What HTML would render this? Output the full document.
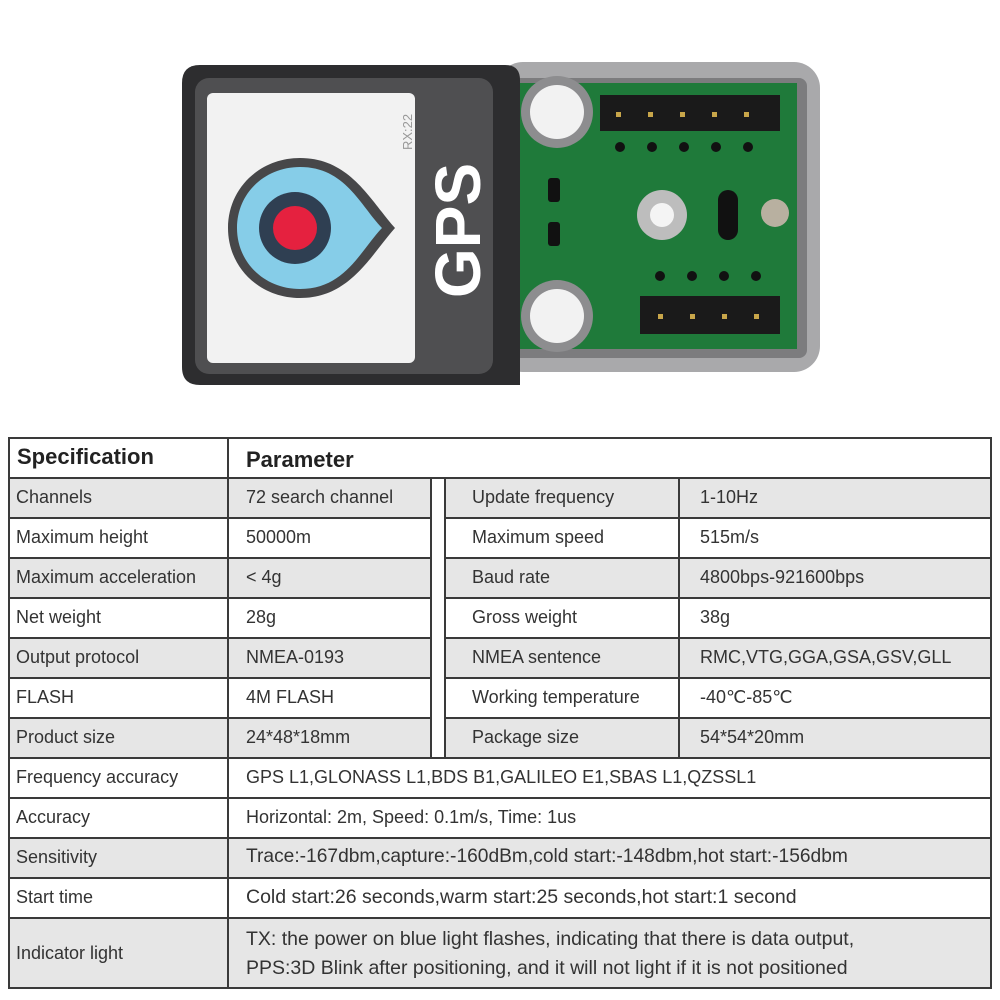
<!DOCTYPE html>
<html><head><style>
body{margin:0;width:1000px;height:1000px;background:#fff;position:relative;font-family:"Liberation Sans",Arial,sans-serif;overflow:hidden}
.t{position:absolute;left:0;top:0}
.c{position:absolute;font-size:18px;color:#333;white-space:nowrap;line-height:20px}
</style></head><body>
<svg class="t" width="1000" height="430" viewBox="0 0 1000 430">
 <rect x="497" y="62" width="323" height="310" rx="26" fill="#a9a9ab"/>
 <rect x="507" y="78" width="300" height="280" rx="8" fill="#7c7c7e"/>
 <rect x="512" y="83" width="285" height="266" fill="#1f7a3a"/>
 <rect x="600" y="95" width="180" height="36" fill="#1a1a1a"/>
 <g fill="#c8a64a"><rect x="616" y="112" width="5" height="5"/><rect x="648" y="112" width="5" height="5"/><rect x="680" y="112" width="5" height="5"/><rect x="712" y="112" width="5" height="5"/><rect x="744" y="112" width="5" height="5"/></g>
 <rect x="640" y="296" width="140" height="38" fill="#1a1a1a"/>
 <g fill="#c8a64a"><rect x="658" y="314" width="5" height="5"/><rect x="690" y="314" width="5" height="5"/><rect x="722" y="314" width="5" height="5"/><rect x="754" y="314" width="5" height="5"/></g>
 <g fill="#111"><circle cx="620" cy="147" r="5"/><circle cx="652" cy="147" r="5"/><circle cx="684" cy="147" r="5"/><circle cx="716" cy="147" r="5"/><circle cx="748" cy="147" r="5"/>
 <circle cx="660" cy="276" r="5"/><circle cx="692" cy="276" r="5"/><circle cx="724" cy="276" r="5"/><circle cx="756" cy="276" r="5"/></g>
 <rect x="718" y="190" width="20" height="50" rx="10" fill="#111"/>
 <circle cx="775" cy="213" r="14" fill="#b8b0a0"/>
 <circle cx="662" cy="215" r="25" fill="#bdbdbd"/><circle cx="662" cy="215" r="12" fill="#f4f4f4"/>
 <rect x="548" y="178" width="12" height="24" rx="3" fill="#111"/><rect x="548" y="222" width="12" height="24" rx="3" fill="#111"/>
 <circle cx="557" cy="112" r="36" fill="#8d8d8f"/><circle cx="557" cy="112" r="27" fill="#f2f2f2"/>
 <circle cx="557" cy="316" r="36" fill="#8d8d8f"/><circle cx="557" cy="316" r="27" fill="#f2f2f2"/>
 <path d="M200 65 H505 Q520 65 520 80 V385 H200 Q182 385 182 367 V83 Q182 65 200 65Z" fill="#2d2d2f"/>
 <rect x="195" y="78" width="298" height="296" rx="14" fill="#4f4f51"/>
 <rect x="207" y="93" width="208" height="270" rx="6" fill="#f2f2f2"/>
 <path d="M300 158 C350 158 370 200 395 228 C370 256 350 298 300 298 C260 298 228 268 228 228 C228 188 260 158 300 158Z" fill="#474749"/>
 <path d="M300 167 C345 167 360 205 382 228 C360 251 345 289 300 289 C265 289 237 263 237 228 C237 193 265 167 300 167Z" fill="#86cde8"/>
 <circle cx="295" cy="228" r="36" fill="#2f3f52"/>
 <circle cx="295" cy="228" r="22" fill="#e5213f"/>
 <text transform="translate(480 298) rotate(-90)" font-family="Liberation Sans" font-weight="bold" font-size="64" fill="#fff">GPS</text>
 <text transform="translate(412 150) rotate(-90)" font-family="Liberation Sans" font-size="13" fill="#999">RX:22</text>
</svg>
<svg class="t" width="1000" height="1000" style="top:0">
 <g fill="#e6e6e6">
  <rect x="9" y="478" width="422" height="40"/><rect x="445" y="478" width="546" height="40"/>
  <rect x="9" y="558" width="422" height="40"/><rect x="445" y="558" width="546" height="40"/>
  <rect x="9" y="638" width="422" height="40"/><rect x="445" y="638" width="546" height="40"/>
  <rect x="9" y="718" width="422" height="40"/><rect x="445" y="718" width="546" height="40"/>
  <rect x="9" y="838" width="982" height="40"/><rect x="9" y="918" width="982" height="70"/>
 </g>
 <g stroke="#3a3a3a" stroke-width="2" fill="none">
  <rect x="9" y="438" width="982" height="550"/>
  <line x1="228" y1="438" x2="228" y2="988"/>
  <line x1="431" y1="478" x2="431" y2="758"/><line x1="445" y1="478" x2="445" y2="758"/>
  <line x1="679" y1="478" x2="679" y2="758"/>
  <path d="M9 478H991M9 518H431M445 518H991M9 558H431M445 558H991M9 598H431M445 598H991M9 638H431M445 638H991M9 678H431M445 678H991M9 718H431M445 718H991M9 758H991M9 798H991M9 838H991M9 878H991M9 918H991"/>
 </g>
</svg>
<div class="c" style="left:17px;top:447px;font-size:22px;font-weight:bold;color:#222">Specification</div>
<div class="c" style="left:246px;top:450px;font-size:22px;font-weight:bold;color:#222">Parameter</div>
<div class="c" style="left:16px;top:487px">Channels</div><div class="c" style="left:246px;top:487px">72 search channel</div>
<div class="c" style="left:472px;top:487px">Update frequency</div><div class="c" style="left:700px;top:487px">1-10Hz</div>
<div class="c" style="left:16px;top:527px">Maximum height</div><div class="c" style="left:246px;top:527px">50000m</div>
<div class="c" style="left:472px;top:527px">Maximum speed</div><div class="c" style="left:700px;top:527px">515m/s</div>
<div class="c" style="left:16px;top:567px">Maximum acceleration</div><div class="c" style="left:246px;top:567px">&lt; 4g</div>
<div class="c" style="left:472px;top:567px">Baud rate</div><div class="c" style="left:700px;top:567px">4800bps-921600bps</div>
<div class="c" style="left:16px;top:607px">Net weight</div><div class="c" style="left:246px;top:607px">28g</div>
<div class="c" style="left:472px;top:607px">Gross weight</div><div class="c" style="left:700px;top:607px">38g</div>
<div class="c" style="left:16px;top:647px">Output protocol</div><div class="c" style="left:246px;top:647px">NMEA-0193</div>
<div class="c" style="left:472px;top:647px">NMEA sentence</div><div class="c" style="left:700px;top:647px">RMC,VTG,GGA,GSA,GSV,GLL</div>
<div class="c" style="left:16px;top:687px">FLASH</div><div class="c" style="left:246px;top:687px">4M FLASH</div>
<div class="c" style="left:472px;top:687px">Working temperature</div><div class="c" style="left:700px;top:687px">-40℃-85℃</div>
<div class="c" style="left:16px;top:727px">Product size</div><div class="c" style="left:246px;top:727px">24*48*18mm</div>
<div class="c" style="left:472px;top:727px">Package size</div><div class="c" style="left:700px;top:727px">54*54*20mm</div>
<div class="c" style="left:16px;top:767px">Frequency accuracy</div><div class="c" style="left:246px;top:767px">GPS L1,GLONASS L1,BDS B1,GALILEO E1,SBAS L1,QZSSL1</div>
<div class="c" style="left:16px;top:807px">Accuracy</div><div class="c" style="left:246px;top:807px">Horizontal: 2m, Speed: 0.1m/s, Time: 1us</div>
<div class="c" style="left:16px;top:847px">Sensitivity</div><div class="c" style="left:246px;top:847px;font-size:19.2px">Trace:-167dbm,capture:-160dBm,cold start:-148dbm,hot start:-156dbm</div>
<div class="c" style="left:16px;top:887px">Start time</div><div class="c" style="left:246px;top:887px;font-size:19.5px">Cold start:26 seconds,warm start:25 seconds,hot start:1 second</div>
<div class="c" style="left:16px;top:943px">Indicator light</div>
<div class="c" style="left:246px;top:929px;font-size:19.5px">TX: the power on blue light flashes, indicating that there is data output,</div>
<div class="c" style="left:246px;top:958px;font-size:19.5px">PPS:3D Blink after positioning, and it will not light if it is not positioned</div>
</body></html>
